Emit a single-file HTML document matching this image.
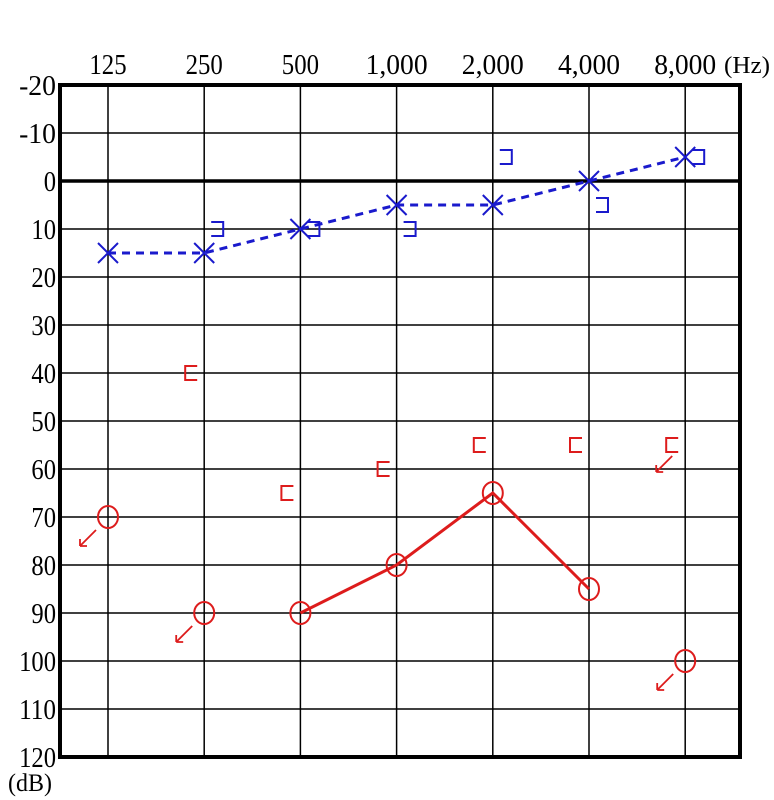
<!DOCTYPE html>
<html><head><meta charset="utf-8"><style>
body{margin:0;background:#fff;}
svg{display:block;font-family:"Liberation Serif",serif;}
</style></head><body>
<svg id="chart" width="774" height="800" viewBox="0 0 774 800" xmlns="http://www.w3.org/2000/svg">
<g id="grid"></g>
<g id="labels"></g>
<g id="marks"></g>
</svg>
<script>
const freqLabels=["125","250","500","1,000","2,000","4,000","8,000"];
const dbTicks=[-20,-10,0,10,20,30,40,50,60,70,80,90,100,110,120];
const leftAir=[15,15,10,5,5,0,-5];
const rightAir=[70,90,90,80,65,85,100];
const rightAirNoResponse=[true,true,false,false,false,false,true];
const leftBone=[null,10,10,10,-5,5,-5];
const rightBone=[null,40,65,60,55,55,55];
const rightBoneNoResponse=[false,false,false,false,false,false,true];

const NS="http://www.w3.org/2000/svg";
const L=60,R=740,T=85,B=757;
const xs=i=>108+i*96.2;
const ys=d=>T+(d+20)*(B-T)/140;
function el(tag,attrs,parent){const e=document.createElementNS(NS,tag);for(const k in attrs)e.setAttribute(k,attrs[k]);parent.appendChild(e);return e;}
const grid=document.getElementById('grid'),labels=document.getElementById('labels'),marks=document.getElementById('marks');

dbTicks.forEach(d=>{
  const g=el('line',{x1:L,x2:R,y1:ys(d),y2:ys(d),stroke:'#000','stroke-width':d===0?3.5:1.5},grid);
  
  
  const s=String(d);
  const t=el('text',{x:56,y:ys(d)+10,'text-anchor':'end','font-size':29,textLength:s.length*12.3,lengthAdjust:'spacingAndGlyphs'},labels);
  t.textContent=s;
  
  
});
freqLabels.forEach((f,i)=>{
  const g=el('line',{x1:xs(i),x2:xs(i),y1:T,y2:B,stroke:'#000','stroke-width':1.5},grid);
  
  
  const t=el('text',{x:xs(i),y:74,'text-anchor':'middle','font-size':29,textLength:f.length*12.4,lengthAdjust:'spacingAndGlyphs'},labels);
  t.textContent=f;
  
  
});
const border=el('rect',{x:L,y:T,width:R-L,height:B-T,fill:'none',stroke:'#000','stroke-width':4},grid);


const hz=el('text',{x:747,y:73,'text-anchor':'middle','font-size':24,textLength:46,lengthAdjust:'spacingAndGlyphs'},labels);
hz.textContent='(Hz)';


const db=el('text',{x:30,y:791,'text-anchor':'middle','font-size':25,textLength:44,lengthAdjust:'spacingAndGlyphs'},labels);
db.textContent='(dB)';



const blue='#1a1acc',red='#dd1c1c';
let p=leftAir.map((d,i)=>xs(i)+','+ys(d)).join(' ');
const bl=el('polyline',{points:p,fill:'none',stroke:blue,'stroke-width':3,'stroke-dasharray':'8,6'},marks);


leftAir.forEach((d,i)=>{
  const x=xs(i),y=ys(d),s=10;
  const g=el('path',{d:`M${x-s} ${y-s}L${x+s} ${y+s}M${x+s} ${y-s}L${x-s} ${y+s}`,stroke:blue,'stroke-width':2,fill:'none'},marks);
  
  
});
const conn=[];rightAir.forEach((d,i)=>{if(!rightAirNoResponse[i])conn.push(xs(i)+','+ys(d));});
const rl=el('polyline',{points:conn.join(' '),fill:'none',stroke:red,'stroke-width':3},marks);


function arrow(x,y,name){
  const a=el('path',{d:`M${x} ${y}L${x-16} ${y+16}M${x-16} ${y+16}L${x-16} ${y+9}M${x-16} ${y+16}L${x-9} ${y+16}`,stroke:red,'stroke-width':1.8,fill:'none'},marks);
  
  
}
rightAir.forEach((d,i)=>{
  const x=xs(i),y=ys(d);
  const c=el('ellipse',{cx:x,cy:y,rx:10,ry:11,fill:'none',stroke:red,'stroke-width':2},marks);
  
  
  if(rightAirNoResponse[i])arrow(x-12,y+13,'no-response-arrow-'+freqLabels[i]);
});
leftBone.forEach((d,i)=>{
  if(d===null)return;
  const x=xs(i)+7,y=ys(d);
  const g=el('path',{d:`M${x} ${y-7}H${x+12}V${y+7}H${x}`,stroke:blue,'stroke-width':2,fill:'none'},marks);
  
  
});
rightBone.forEach((d,i)=>{
  if(d===null)return;
  const x=xs(i)-7,y=ys(d);
  const g=el('path',{d:`M${x} ${y-7}H${x-12}V${y+7}H${x}`,stroke:red,'stroke-width':2,fill:'none'},marks);
  
  
  if(rightBoneNoResponse[i])arrow(x-6,y+11,'bone-no-response-arrow-'+freqLabels[i]);
});
</script>
</body></html>
